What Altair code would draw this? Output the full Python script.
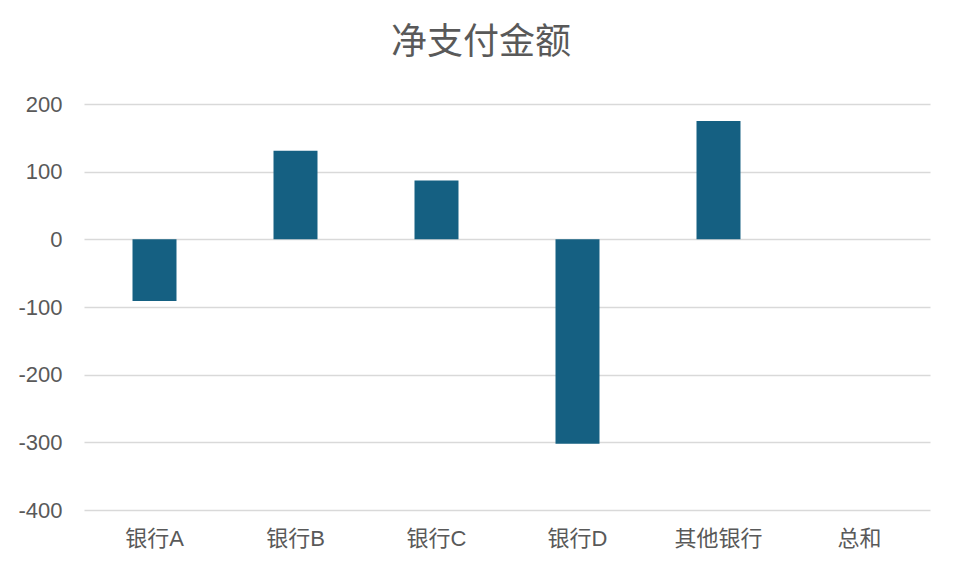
import altair as alt
import pandas as pd

categories = ["银行A", "银行B", "银行C", "银行D", "其他银行", "总和"]
values = [-91, 131, 87, -302, 175, 0]
y_ticks = [-400, -300, -200, -100, 0, 100, 200]

df = pd.DataFrame({"category": categories, "value": values})

FONT = "Liberation Sans, Arial, Noto Sans CJK SC"
TEXT = "#595959"

chart = (
    alt.Chart(df)
    .mark_bar(color="#156082")
    .encode(
        x=alt.X(
            "category:N",
            sort=categories,
            title=None,
            scale=alt.Scale(paddingInner=0.688, paddingOuter=0.344),
            axis=alt.Axis(
                labelAngle=0,
                labelFontSize=22,
                labelColor=TEXT,
                labelFont=FONT,
                labelPadding=18,
                ticks=False,
                domain=False,
                grid=False,
            ),
        ),
        y=alt.Y(
            "value:Q",
            title=None,
            scale=alt.Scale(domain=[-400, 200], nice=False, zero=False),
            axis=alt.Axis(
                values=y_ticks,
                labelExpr="toString(datum.value)",
                labelFontSize=22,
                labelColor=TEXT,
                labelFont=FONT,
                labelPadding=22,
                ticks=False,
                domain=False,
                grid=True,
                gridColor="#d9d9d9",
                gridWidth=1.3,
            ),
        ),
    )
    .properties(
        width=846,
        height=406,
        title=alt.TitleParams(
            "净支付金额",
            fontSize=36,
            font=FONT,
            color=TEXT,
            fontWeight="normal",
            anchor="middle",
            dx=-26,
            offset=31,
        ),
        autosize=alt.AutoSizeParams(type="none"),
        padding={"left": 76, "top": 96, "right": 20, "bottom": 44},
    )
    .configure_view(stroke=None)
)

chart.save("out.html", embed_options={"renderer": "svg", "actions": False})
